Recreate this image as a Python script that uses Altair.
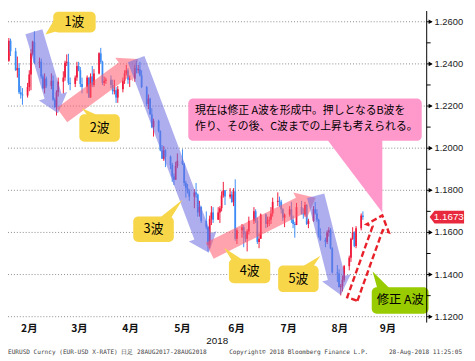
import altair as alt
import pandas as pd
from datetime import datetime

# ---------------- data (EUR/USD daily) ----------------
first_open = 1.2415
feb_close = [1.2510, 1.2460, 1.2370, 1.2380, 1.2265, 1.2255, 1.2250, 1.2290, 1.2350, 1.2450,
             1.2505, 1.2405, 1.2410, 1.2340, 1.2285, 1.2330, 1.2295, 1.2320, 1.2230, 1.2195]
feb_high = [1.2523, 1.2520, 1.2476, 1.2435, 1.2404, 1.2295, 1.2285, 1.2310, 1.2370, 1.2470,
            1.2510, 1.2555, 1.2430, 1.2425, 1.2350, 1.2355, 1.2340, 1.2355, 1.2345, 1.2240]
feb_low = [1.2410, 1.2437, 1.2367, 1.2335, 1.2257, 1.2235, 1.2206, 1.2240, 1.2270, 1.2275,
           1.2440, 1.2400, 1.2380, 1.2330, 1.2280, 1.2260, 1.2285, 1.2280, 1.2225, 1.2190]
mar_close = [1.2265, 1.2315, 1.2335, 1.2405, 1.2410, 1.2310, 1.2305, 1.2335, 1.2390, 1.2370, 1.2305,
             1.2290, 1.2335, 1.2240, 1.2340, 1.2300, 1.2355, 1.2450, 1.2410, 1.2310, 1.2320, 1.2325]
mar_high = [1.2275, 1.2335, 1.2365, 1.2415, 1.2445, 1.2448, 1.2335, 1.2345, 1.2410, 1.2410, 1.2385,
            1.2335, 1.2345, 1.2335, 1.2355, 1.2390, 1.2375, 1.2455, 1.2476, 1.2415, 1.2340, 1.2335]
mar_low = [1.2155, 1.2245, 1.2260, 1.2320, 1.2390, 1.2300, 1.2275, 1.2290, 1.2320, 1.2365, 1.2290,
           1.2260, 1.2260, 1.2240, 1.2240, 1.2290, 1.2290, 1.2350, 1.2400, 1.2300, 1.2295, 1.2305]
apr_close = [1.2300, 1.2270, 1.2275, 1.2240, 1.2280, 1.2320, 1.2355, 1.2370, 1.2325, 1.2330, 1.2380,
             1.2370, 1.2375, 1.2345, 1.2290, 1.2210, 1.2235, 1.2160, 1.2100, 1.2130, 1.2080]
apr_high = [1.2345, 1.2325, 1.2325, 1.2290, 1.2295, 1.2335, 1.2370, 1.2395, 1.2380, 1.2345, 1.2395,
            1.2415, 1.2395, 1.2410, 1.2370, 1.2295, 1.2255, 1.2240, 1.2190, 1.2140, 1.2135]
apr_low = [1.2285, 1.2255, 1.2255, 1.2215, 1.2215, 1.2265, 1.2305, 1.2345, 1.2305, 1.2290, 1.2315,
           1.2355, 1.2355, 1.2340, 1.2285, 1.2200, 1.2185, 1.2160, 1.2095, 1.2055, 1.2075]
may_close = [1.1990, 1.1950, 1.1990, 1.1960, 1.1920, 1.1865, 1.1850, 1.1915, 1.1940, 1.1925, 1.1835, 1.1810,
             1.1795, 1.1770, 1.1790, 1.1780, 1.1695, 1.1720, 1.1655, 1.1625, 1.1540, 1.1665, 1.1695]
may_high = [1.2085, 1.2015, 1.2010, 1.1995, 1.1965, 1.1930, 1.1880, 1.1935, 1.1975, 1.1995, 1.1930, 1.1845,
            1.1830, 1.1805, 1.1805, 1.1835, 1.1785, 1.1750, 1.1725, 1.1700, 1.1630, 1.1680, 1.1725]
may_low = [1.1985, 1.1950, 1.1940, 1.1910, 1.1900, 1.1840, 1.1825, 1.1850, 1.1905, 1.1920, 1.1820, 1.1765,
           1.1785, 1.1750, 1.1715, 1.1765, 1.1675, 1.1675, 1.1645, 1.1615, 1.1510, 1.1525, 1.1635]
jun_close = [1.1660, 1.1695, 1.1715, 1.1775, 1.1800, 1.1770, 1.1780, 1.1745, 1.1795, 1.1570, 1.1610,
             1.1625, 1.1590, 1.1570, 1.1605, 1.1655, 1.1700, 1.1655, 1.1555, 1.1570, 1.1685]
jun_high = [1.1720, 1.1720, 1.1725, 1.1795, 1.1840, 1.1790, 1.1810, 1.1795, 1.1810, 1.1852, 1.1620,
            1.1640, 1.1635, 1.1605, 1.1615, 1.1675, 1.1720, 1.1710, 1.1670, 1.1595, 1.1690]
jun_low = [1.1645, 1.1660, 1.1645, 1.1700, 1.1765, 1.1730, 1.1760, 1.1740, 1.1725, 1.1560, 1.1545,
           1.1575, 1.1530, 1.1555, 1.1510, 1.1590, 1.1640, 1.1645, 1.1545, 1.1525, 1.1570]
jul_close = [1.1640, 1.1655, 1.1660, 1.1690, 1.1745, 1.1750, 1.1745, 1.1710, 1.1670, 1.1685, 1.1710,
             1.1660, 1.1640, 1.1635, 1.1720, 1.1690, 1.1685, 1.1730, 1.1640, 1.1655, 1.1710, 1.1690]
jul_high = [1.1690, 1.1675, 1.1675, 1.1720, 1.1765, 1.1790, 1.1770, 1.1755, 1.1715, 1.1690, 1.1725,
            1.1745, 1.1680, 1.1650, 1.1740, 1.1750, 1.1715, 1.1745, 1.1735, 1.1665, 1.1725, 1.1745]
jul_low = [1.1620, 1.1625, 1.1630, 1.1640, 1.1675, 1.1725, 1.1720, 1.1690, 1.1655, 1.1625, 1.1675,
           1.1645, 1.1620, 1.1575, 1.1640, 1.1685, 1.1665, 1.1675, 1.1635, 1.1620, 1.1650, 1.1685]
aug_close = [1.1660, 1.1585, 1.1565, 1.1555, 1.1600, 1.1610, 1.1525, 1.1410, 1.1405, 1.1340,
             1.1345, 1.1375, 1.1440, 1.1480, 1.1570, 1.1600, 1.1535, 1.1620, 1.1680, 1.1673]
aug_high = [1.1710, 1.1665, 1.1620, 1.1575, 1.1610, 1.1625, 1.1620, 1.1530, 1.1445, 1.1425,
            1.1355, 1.1395, 1.1445, 1.1490, 1.1575, 1.1625, 1.1605, 1.1630, 1.1690, 1.1700]
aug_low = [1.1650, 1.1575, 1.1560, 1.1530, 1.1545, 1.1580, 1.1520, 1.1405, 1.1365, 1.1340,
           1.1301, 1.1320, 1.1365, 1.1420, 1.1460, 1.1565, 1.1530, 1.1525, 1.1610, 1.1660]

y_major_values = [1.12, 1.14, 1.16, 1.18, 1.20, 1.22, 1.24, 1.26]
y_minor_values = [1.13, 1.15, 1.17, 1.19, 1.21, 1.23, 1.25]
month_labels = ["2月", "3月", "4月", "5月", "6月", "7月", "8月", "9月"]
month_label_dates = ["2018-02-13T00:00:00Z", "2018-03-14T12:00:00Z", "2018-04-13T12:00:00Z",
                     "2018-05-14T00:00:00Z", "2018-06-14T18:00:00Z", "2018-07-15T10:00:00Z",
                     "2018-08-14T10:00:00Z", "2018-09-11T18:00:00Z"]
year_label = "2018"
year_label_date = "2018-06-03T10:00:00Z"

# annotation callouts (boxes given in date / price)
callout_text = ["1波", "2波", "3波", "4波", "5波", "修正 A波"]
callout_x0 = ["2018-02-27T02:00:00Z", "2018-03-14T10:00:00Z", "2018-04-15T02:00:00Z",
              "2018-06-10T07:00:00Z", "2018-07-09T05:00:00Z", "2018-09-02T05:00:00Z"]
callout_x1 = ["2018-03-24T00:00:00Z", "2018-04-07T05:00:00Z", "2018-05-08T22:00:00Z",
              "2018-07-04T14:00:00Z", "2018-08-02T00:00:00Z", "2018-10-05T14:00:00Z"]
callout_top = [1.2648, 1.2161, 1.1676, 1.1475, 1.1443, 1.1340]
callout_bottom = [1.2549, 1.2031, 1.1555, 1.1359, 1.1317, 1.1214]
tail_tip_date = ["2018-02-22T12:00:00Z", "2018-03-16T00:00:00Z", "2018-05-14T00:00:00Z",
                 "2018-06-07T10:00:00Z", "2018-08-03T02:00:00Z", "2018-09-02T17:00:00Z"]
tail_tip_price = [1.2539, 1.2189, 1.1755, 1.1527, 1.1489, 1.1415]

note_lines = ["現在は修正 A波を形成中。押しとなるB波を", "作り、その後、C波までの上昇も考えられる。"]
note_x0, note_x1 = "2018-05-17T10:00:00Z", "2018-10-01T14:00:00Z"
note_top, note_bottom = 1.2236, 1.2035
note_text_date = "2018-05-21T10:00:00Z"
note_text_price = [1.2174, 1.2100]
note_tip_date, note_tip_price = "2018-09-08T10:00:00Z", 1.1695

# wave arrows: start -> tip (date, price)
wave_start_date = ["2018-02-15T17:00:00Z", "2018-03-04T05:00:00Z", "2018-04-16T19:00:00Z",
                   "2018-05-30T00:00:00Z", "2018-07-31T07:00:00Z"]
wave_start_price = [1.2553, 1.2157, 1.2423, 1.1513, 1.1774]
wave_end_date = ["2018-03-01T22:00:00Z", "2018-04-18T00:00:00Z", "2018-05-29T12:00:00Z",
                 "2018-07-31T07:00:00Z", "2018-08-15T00:00:00Z"]
wave_end_price = [1.2166, 1.2423, 1.1503, 1.1765, 1.1303]
wave_dir = ["down", "up", "down", "up", "down"]
proj_start_date, proj_start_price = "2018-08-21T19:00:00Z", 1.1284
proj_end_date, proj_end_price = "2018-09-08T10:00:00Z", 1.1681

footer_left = "EURUSD Curncy (EUR-USD X-RATE)  日足 28AUG2017-28AUG2018"
footer_mid = "Copyright© 2018 Bloomberg Finance L.P."
footer_right = "28-Aug-2018 11:25:05"

# ---------------- styles / layout ----------------
W, H = 426, 317
YMIN, YMAX = 1.1172, 1.2651
T0 = datetime(2018, 1, 31, 12)
T1 = datetime(2018, 10, 4, 12)
RED, BLUE = "#f01a3c", "#3c8cf5"
ARROW_BLUE, ARROW_RED = "#6b6be0", "#ff5a6e"
YELLOW, GREEN, PINK = "#f7d64a", "#99cc00", "#ff99cc"
GRID = "#8a8a8a"
JP = "Noto Sans CJK JP"

x_scale = alt.Scale(type="utc", nice=False,
                    domain=[alt.DateTime(year=2018, month=1, date=31, hours=12, utc=True),
                            alt.DateTime(year=2018, month=10, date=4, hours=12, utc=True)])
y_scale = alt.Scale(domain=[YMIN, YMAX], zero=False, nice=False)


def px(s):
    t = datetime.fromisoformat(s.replace("Z", ""))
    return (t - T0).total_seconds() / (T1 - T0).total_seconds() * W


def py(p):
    return (YMAX - p) / (YMAX - YMIN) * H


def arrow_path(sd, sp, td, tp, a, b, h):
    x0, y0, x1, y1 = px(sd), py(sp), px(td), py(tp)
    vx, vy = x1 - x0, y1 - y0
    L = (vx * vx + vy * vy) ** 0.5
    ux, uy = vx / L, vy / L
    nx, ny = -uy, ux
    k = L - h
    pts = [(a * nx, a * ny), (k * ux + a * nx, k * uy + a * ny), (k * ux + b * nx, k * uy + b * ny),
           (L * ux, L * uy), (k * ux - b * nx, k * uy - b * ny), (k * ux - a * nx, k * uy - a * ny),
           (-a * nx, -a * ny)]
    return "M" + " L".join(f"{x:.2f},{y:.2f}" for x, y in pts) + " Z"


tail_shapes = ["M0,0 L10,-17 L17,-5 Z", "M0,0 L6,8 L18,8 Z", "M0,0 L-24,19 L-12,19 Z",
               "M0,0 L8,13 L20,13 Z", "M0,0 L-20,12 L-8,12 Z", "M0,0 L5,18 L18,18 Z"]
note_tail_shape = "M0,0 L-59,-78 L0,-78 Z"
tag_shape = "M-17.5,0 L-12.5,-6.5 L17.5,-6.5 L17.5,6.5 L-12.5,6.5 Z"

# ---------------- tables ----------------
closes = feb_close + mar_close + apr_close + may_close + jun_close + jul_close + aug_close
highs = feb_high + mar_high + apr_high + may_high + jun_high + jul_high + aug_high
lows = feb_low + mar_low + apr_low + may_low + jun_low + jul_low + aug_low
dates = pd.bdate_range("2018-02-01", "2018-08-28")
opens = [first_open] + closes[:-1]
df = pd.DataFrame({"date": dates.strftime("%Y-%m-%dT00:00:00Z"), "open": opens, "close": closes,
                   "high": [max(h, o, c) for h, o, c in zip(highs, opens, closes)],
                   "low": [min(l, o, c) for l, o, c in zip(lows, opens, closes)]})

x_axis = alt.Axis(values=[alt.DateTime(year=2018, month=m, date=1, utc=True) for m in range(2, 11)],
                  labels=False, tickSize=4, tickColor="black", domainColor="black", title=None,
                  grid=True, gridDash=[1, 2], gridColor=GRID)

Y = lambda f: alt.Y(f, scale=y_scale, axis=None)
X = lambda f: alt.X(f, scale=x_scale, axis=None)

# manual y axis (right side): grid, domain, ticks, labels
ymaj = pd.DataFrame({"v": y_major_values, "label": [f"{v:.4f}" for v in y_major_values]})
hgrid = alt.Chart(ymaj).mark_rule(color=GRID, strokeDash=[1, 2], strokeWidth=1).encode(
    x=alt.value(0), x2=alt.value(W), y=Y("v:Q"))
ydomain = alt.Chart(ymaj.iloc[[0]]).mark_rule(color="black", strokeWidth=1).encode(
    x=alt.value(W), y=alt.value(0), y2=alt.value(H))
ymajtick = alt.Chart(ymaj).mark_rule(color="black", strokeWidth=1).encode(
    x=alt.value(W), x2=alt.value(W + 5), y=Y("v:Q"))
tri = alt.Chart(ymaj).mark_point(shape="triangle-right", size=22, filled=True, color="black",
                                 opacity=1).encode(x=alt.value(W + 4), y=Y("v:Q"))
ylabels = alt.Chart(ymaj).mark_text(font="Liberation Sans", fontSize=9.5, color="#222", align="left",
                                    baseline="middle").encode(x=alt.value(W + 8), y=Y("v:Q"),
                                                              text="label:N")
minor = alt.Chart(pd.DataFrame({"v": y_minor_values})).mark_rule(color="black", strokeWidth=1).encode(
    x=alt.value(W), x2=alt.value(W + 4), y=Y("v:Q"))

candle_color = alt.condition("datum.close >= datum.open", alt.value(RED), alt.value(BLUE))
base = alt.Chart(df)
wick = base.mark_rule(strokeWidth=1).encode(
    x=alt.X("date:T", scale=x_scale, axis=x_axis),
    y=Y("low:Q"), y2="high:Q", color=candle_color)
body = base.mark_rule(strokeWidth=1.8).encode(
    x=X("date:T"), y=Y("open:Q"), y2="close:Q", color=candle_color)

arrows_df = pd.DataFrame({
    "date": wave_start_date, "price": wave_start_price,
    "shape": [arrow_path(a, b, c, d, 9, 15, 18) for a, b, c, d in
              zip(wave_start_date, wave_start_price, wave_end_date, wave_end_price)],
    "col": [ARROW_BLUE if d == "down" else ARROW_RED for d in wave_dir]})
arrows = alt.Chart(arrows_df).mark_point(size=4, filled=True, opacity=0.55, strokeWidth=0).encode(
    x=X("date:T"), y=Y("price:Q"),
    shape=alt.Shape("shape:N", scale=None, legend=None), color=alt.Color("col:N", scale=None))

tails_df = pd.DataFrame({"date": tail_tip_date + [note_tip_date],
                         "price": tail_tip_price + [note_tip_price],
                         "shape": tail_shapes + [note_tail_shape],
                         "col": [YELLOW] * 5 + [GREEN, PINK]})
tails = alt.Chart(tails_df).mark_point(size=4, filled=True, opacity=1, strokeWidth=0).encode(
    x=X("date:T"), y=Y("price:Q"),
    shape=alt.Shape("shape:N", scale=None, legend=None), color=alt.Color("col:N", scale=None))

boxes_df = pd.DataFrame({"x0": callout_x0 + [note_x0], "x1": callout_x1 + [note_x1],
                         "top": callout_top + [note_top], "bottom": callout_bottom + [note_bottom],
                         "col": [YELLOW] * 5 + [GREEN, PINK]})
boxes = alt.Chart(boxes_df).mark_rect(cornerRadius=5).encode(
    x=X("x0:T"), x2="x1:T", y=Y("top:Q"), y2="bottom:Q", color=alt.Color("col:N", scale=None))

lab_df = pd.DataFrame({"text": callout_text,
                       "date": [(pd.Timestamp(a) + (pd.Timestamp(b) - pd.Timestamp(a)) / 2).strftime("%Y-%m-%dT%H:%M:%SZ")
                                for a, b in zip(callout_x0, callout_x1)],
                       "price": [(t + b) / 2 for t, b in zip(callout_top, callout_bottom)],
                       "fs": [13, 13, 13, 13, 13, 12.5]})
labels = alt.Chart(lab_df).mark_text(font=JP, color="black", baseline="middle").encode(
    x=X("date:T"), y=Y("price:Q"), text="text:N", size=alt.Size("fs:Q", scale=None, legend=None))

note_df = pd.DataFrame({"text": note_lines, "date": [note_text_date] * 2, "price": note_text_price})
note = alt.Chart(note_df).mark_text(font=JP, fontSize=11, color="black", align="left",
                                    baseline="middle").encode(
    x=X("date:T"), y=Y("price:Q"), text="text:N")

proj_df = pd.DataFrame({"date": [proj_start_date], "price": [proj_start_price],
                        "shape": [arrow_path(proj_start_date, proj_start_price, proj_end_date,
                                             proj_end_price, 5.5, 12, 14)]})
proj = alt.Chart(proj_df).mark_point(size=4, filled=False, opacity=1, stroke="#e8202a",
                                     strokeWidth=2.4, strokeDash=[6, 3]).encode(
    x=X("date:T"), y=Y("price:Q"), shape=alt.Shape("shape:N", scale=None, legend=None))

months_df = pd.DataFrame({"date": month_label_dates, "label": month_labels})
months = alt.Chart(months_df).mark_text(font=JP, fontSize=10.5, fontWeight="bold", color="#111",
                                        baseline="middle").encode(
    x=X("date:T"), y=alt.value(H + 7), text="label:N")
year = alt.Chart(pd.DataFrame({"date": [year_label_date], "t": [year_label]})).mark_text(
    font="Liberation Sans", fontSize=10, color="#111", baseline="middle").encode(
    x=X("date:T"), y=alt.value(H + 19), text="t:N")

foot_df = pd.DataFrame({"t": [footer_left, footer_mid, footer_right],
                        "xp": [0, 225, 462], "al": ["left", "left", "right"]})
feet = [alt.Chart(foot_df.iloc[[i]]).mark_text(font="DejaVu Sans Mono", fontSize=6.2, color="#444",
                                                align=foot_df["al"][i], baseline="middle").encode(
    x=alt.value(float(foot_df["xp"][i])), y=alt.value(H + 30), text="t:N") for i in range(3)]

tag_df = pd.DataFrame({"price": [closes[-1]], "label": [f"{closes[-1]:.4f}"], "shape": [tag_shape]})
tag = alt.Chart(tag_df).mark_point(size=4, filled=True, color="#e8283c", opacity=1, strokeWidth=0).encode(
    x=alt.value(W + 20.5), y=Y("price:Q"), shape=alt.Shape("shape:N", scale=None, legend=None))
tag_text = alt.Chart(tag_df).mark_text(font="Liberation Sans", fontSize=10, color="white",
                                       baseline="middle").encode(
    x=alt.value(W + 22.5), y=Y("price:Q"), text="label:N")

chart = alt.layer(hgrid, wick, body, arrows, tails, boxes, labels, note, proj, months, year, *feet,
                  ydomain, ymajtick, minor, tri, ylabels, tag, tag_text).properties(
    width=W, height=H, autosize=alt.AutoSizeParams(type="none"),
    padding={"left": 0, "top": 0, "right": 41, "bottom": 36},
    background="white").configure_view(stroke=None)

chart.save("out.html", embed_options={"renderer": "svg", "actions": False})
